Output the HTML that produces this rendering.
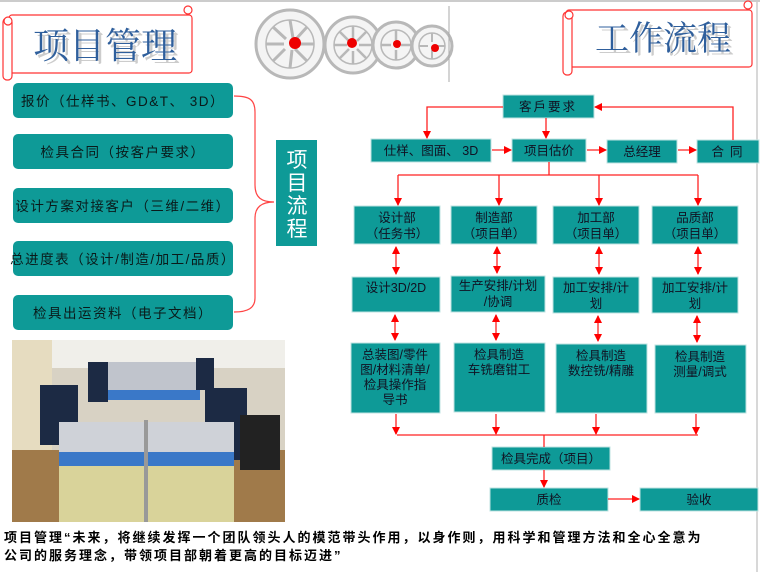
<!DOCTYPE html>
<html><head><meta charset="utf-8">
<style>
html,body{margin:0;padding:0;background:#fff;}
body{width:760px;height:572px;overflow:hidden;position:relative;font-family:"Liberation Sans","Noto Sans CJK SC",sans-serif;}
svg{position:absolute;left:0;top:0;}
.t{font-family:"Liberation Sans","Noto Sans CJK SC",sans-serif;}
.s{font-family:"Liberation Serif","Noto Serif CJK SC",serif;}
</style></head>
<body>
<svg width="760" height="572" viewBox="0 0 760 572" xmlns="http://www.w3.org/2000/svg">
<defs>
<marker id="a" markerWidth="8" markerHeight="8" refX="7" refY="4" orient="auto" markerUnits="userSpaceOnUse"><path d="M0,0 L8,4 L0,8 z" fill="#f00"/></marker>
<marker id="b" markerWidth="8" markerHeight="8" refX="1" refY="4" orient="auto" markerUnits="userSpaceOnUse"><path d="M8,0 L0,4 L8,8 z" fill="#f00"/></marker>
</defs>
<line x1="0" y1="1" x2="760" y2="1" stroke="#ccc" stroke-width="2"/>
<line x1="757" y1="0" x2="757" y2="572" stroke="#ccc" stroke-width="1.5"/>

<!-- left scroll title -->
<g fill="#fff" stroke="#f33" stroke-width="1.2">
<rect x="9" y="15" width="183" height="58" rx="3"/>
<rect x="3" y="18" width="9" height="62" rx="4"/>
<circle cx="8" cy="21" r="4"/>
<circle cx="188" cy="10" r="4"/>
</g>
<text x="36" y="61" class="s" font-size="36" fill="#ccc">项目管理</text>
<text x="33" y="58" class="s" font-size="36" fill="#2f5f9c">项目管理</text>

<!-- wheels -->
<g fill="#f4f4f4" stroke="#b8b8b8">
<circle cx="290" cy="44" r="34" stroke-width="3"/>
<circle cx="290" cy="44" r="24" stroke-width="1.5" fill="none"/>
<path d="M290,20 L293,38 M266,44 L284,44 M314,44 L297,44 M290,68 L292,50 M273,27 L286,39 M307,61 L295,49 M307,27 L296,39 M273,61 L285,49" stroke-width="3"/>
<circle cx="295" cy="43" r="6" fill="#e00" stroke="none"/>
<circle cx="353" cy="45" r="28" stroke-width="3"/>
<circle cx="353" cy="45" r="19" stroke-width="1.5" fill="none"/>
<path d="M353,26 L353,39 M334,45 L347,45 M372,45 L359,45 M353,64 L353,51 M340,32 L349,41 M366,58 L357,49 M366,32 L357,41 M340,58 L349,49" stroke-width="2.5"/>
<circle cx="352" cy="43" r="5" fill="#e00" stroke="none"/>
<circle cx="396" cy="45" r="23" stroke-width="3"/>
<circle cx="396" cy="45" r="15" stroke-width="1.5" fill="none"/>
<path d="M396,30 L396,40 M381,45 L391,45 M411,45 L401,45 M396,60 L396,50" stroke-width="2.5"/>
<circle cx="397" cy="44" r="4" fill="#e00" stroke="none"/>
<circle cx="432" cy="46" r="20" stroke-width="3"/>
<circle cx="432" cy="46" r="13" stroke-width="1.5" fill="none"/>
<path d="M432,33 L432,42 M419,46 L428,46 M445,46 L436,46 M432,59 L432,50" stroke-width="2"/>
<circle cx="435" cy="48" r="4" fill="#e00" stroke="none"/>
</g>
<line x1="449" y1="6" x2="449" y2="82" stroke="#aaa" stroke-width="1"/>

<!-- right scroll -->
<g fill="#fff" stroke="#f33" stroke-width="1.2">
<rect x="566" y="10" width="186" height="57" rx="3"/>
<rect x="563" y="12" width="9" height="63" rx="4"/>
<circle cx="569" cy="15" r="4"/>
<circle cx="748" cy="5" r="4"/>
</g>
<text x="598" y="53" class="s" font-size="34" fill="#ccc">工作流程</text>
<text x="595" y="50" class="s" font-size="34" fill="#2f5f9c">工作流程</text>

<!-- left list -->
<g fill="#0e9a97">
<rect x="13" y="83" width="220" height="35" rx="5"/>
<rect x="13" y="134" width="220" height="35" rx="5"/>
<rect x="13" y="188" width="220" height="35" rx="5"/>
<rect x="13" y="241" width="220" height="35" rx="5"/>
<rect x="13" y="295" width="220" height="35" rx="5"/>
<rect x="276" y="140" width="41" height="106"/>
</g>
<g class="t" font-size="13.5" fill="#0a1a1a" text-anchor="middle" letter-spacing="1.5">
<text x="123" y="106">报价（仕样书、GD&amp;T、 3D）</text>
<text x="123" y="157">检具合同（按客户要求）</text>
<text x="123" y="211">设计方案对接客户（三维/二维）</text>
<text x="123" y="264">总进度表（设计/制造/加工/品质）</text>
<text x="123" y="318">检具出运资料（电子文档）</text>
</g>
<g class="t" font-size="21" fill="#fff" text-anchor="middle">
<text x="297" y="167">项</text><text x="297" y="190">目</text><text x="297" y="213">流</text><text x="297" y="236">程</text>
</g>
<path d="M234,96 C250,96 255,100 255,112 L255,185 C255,198 262,202 274,202 C262,202 255,207 255,218 L255,298 C255,308 248,312 234,312" fill="none" stroke="#f44" stroke-width="1.2"/>

<!-- photo -->
<g>
<rect x="12" y="340" width="273" height="182" fill="#d8d2c4"/>
<rect x="12" y="340" width="273" height="28" fill="#f0efea"/>
<rect x="12" y="340" width="40" height="120" fill="#e6dcc0"/>
<rect x="12" y="450" width="273" height="72" fill="#a07a4a"/>
<rect x="100" y="362" width="100" height="32" fill="#c0c4cc"/>
<rect x="100" y="390" width="100" height="10" fill="#3a78c8"/>
<rect x="40" y="385" width="38" height="60" fill="#1c2a44"/>
<rect x="205" y="388" width="42" height="72" fill="#1c2a44"/>
<rect x="88" y="362" width="20" height="40" fill="#1c2a44"/>
<rect x="196" y="358" width="18" height="32" fill="#1c2a44"/>
<rect x="59" y="422" width="175" height="30" fill="#cfd2d8"/>
<rect x="59" y="452" width="175" height="14" fill="#3a78c8"/>
<rect x="59" y="466" width="175" height="56" fill="#d9d39a"/>
<rect x="144" y="420" width="4" height="102" fill="#999"/>
<rect x="240" y="415" width="40" height="55" fill="#222"/>
</g>

<!-- bottom text -->
<g class="t" font-size="13" font-weight="bold" fill="#000" letter-spacing="2">
<text x="4" y="542">项目管理“未来，将继续发挥一个团队领头人的模范带头作用，以身作则，用科学和管理方法和全心全意为</text>
<text x="4" y="560">公司的服务理念，带领项目部朝着更高的目标迈进”</text>
</g>

<!-- flow boxes -->
<g fill="#0e9a97" stroke="#bfe3e2" stroke-width="1">
<rect x="503" y="95" width="91" height="23"/>
<rect x="371" y="139" width="120" height="23"/>
<rect x="512" y="139" width="74" height="23"/>
<rect x="607" y="140" width="70" height="23"/>
<rect x="697" y="140" width="62" height="23"/>
<rect x="354" y="206" width="86" height="38"/>
<rect x="451" y="206" width="86" height="38"/>
<rect x="553" y="206" width="86" height="38"/>
<rect x="652" y="206" width="86" height="38"/>
<rect x="352" y="277" width="88" height="35"/>
<rect x="451" y="276" width="94" height="36"/>
<rect x="553" y="277" width="86" height="36"/>
<rect x="652" y="277" width="86" height="36"/>
<rect x="351" y="343" width="89" height="70"/>
<rect x="454" y="343" width="91" height="69"/>
<rect x="556" y="344" width="91" height="69"/>
<rect x="655" y="345" width="91" height="68"/>
<rect x="492" y="447" width="118" height="23"/>
<rect x="490" y="488" width="118" height="23"/>
<rect x="640" y="488" width="118" height="23"/>
</g>
<g class="t" font-size="12.5" fill="#112" text-anchor="middle">
<text x="548" y="111" letter-spacing="2">客戶要求</text>
<text x="431" y="155">仕样、图面、 3D</text>
<text x="549" y="155">项目估价</text>
<text x="642" y="156">总经理</text>
<text x="730" y="156" letter-spacing="6">合同</text>
<text x="397" y="222">设计部</text><text x="397" y="238">（任务书）</text>
<text x="494" y="222">制造部</text><text x="494" y="238">（项目单）</text>
<text x="596" y="222">加工部</text><text x="596" y="238">（项目单）</text>
<text x="695" y="222">品质部</text><text x="695" y="238">（项目单）</text>
<text x="396" y="292">设计3D/2D</text>
<text x="498" y="290">生产安排/计划</text><text x="498" y="306">/协调</text>
<text x="596" y="292">加工安排/计</text><text x="596" y="308">划</text>
<text x="695" y="292">加工安排/计</text><text x="695" y="308">划</text>
<text x="395" y="359">总装图/零件</text><text x="395" y="374">图/材料清单/</text><text x="395" y="389">检具操作指</text><text x="395" y="404">导书</text>
<text x="499" y="359">检具制造</text><text x="499" y="374">车铣磨钳工</text>
<text x="601" y="360">检具制造</text><text x="601" y="375">数控铣/精雕</text>
<text x="700" y="361">检具制造</text><text x="700" y="376">测量/调式</text>
<text x="551" y="463">检具完成（项目）</text>
<text x="549" y="504">质检</text>
<text x="699" y="504">验收</text>
</g>

<!-- connectors -->
<g stroke="#f22" stroke-width="1.3" fill="none">
<path d="M503,107 L427,107 L427,138" marker-end="url(#a)"/>
<path d="M546,118 L546,138" marker-end="url(#a)"/>
<path d="M492,150 L511,150" marker-end="url(#a)"/>
<path d="M587,150 L606,150" marker-end="url(#a)"/>
<path d="M678,150 L696,150" marker-end="url(#a)"/>
<path d="M733,140 L733,107 L595,107" marker-end="url(#a)"/>
<path d="M549,162 L549,175"/>
<path d="M398,175 L698,175"/>
<path d="M398,175 L398,205" marker-end="url(#a)"/>
<path d="M499,175 L499,205" marker-end="url(#a)"/>
<path d="M599,175 L599,205" marker-end="url(#a)"/>
<path d="M698,175 L698,205" marker-end="url(#a)"/>
<path d="M396,247 L396,274" marker-start="url(#b)" marker-end="url(#a)"/>
<path d="M497,247 L497,273" marker-start="url(#b)" marker-end="url(#a)"/>
<path d="M599,247 L599,274" marker-start="url(#b)" marker-end="url(#a)"/>
<path d="M698,247 L698,274" marker-start="url(#b)" marker-end="url(#a)"/>
<path d="M395,315 L395,340" marker-start="url(#b)" marker-end="url(#a)"/>
<path d="M496,315 L496,340" marker-start="url(#b)" marker-end="url(#a)"/>
<path d="M598,316 L598,341" marker-start="url(#b)" marker-end="url(#a)"/>
<path d="M697,316 L697,342" marker-start="url(#b)" marker-end="url(#a)"/>
<path d="M396,414 L396,434" marker-end="url(#a)"/>
<path d="M496,414 L496,434" marker-end="url(#a)"/>
<path d="M596,414 L596,434" marker-end="url(#a)"/>
<path d="M696,414 L696,434" marker-end="url(#a)"/>
<path d="M397,435 L698,435"/>
<path d="M544,435 L544,447"/>
<path d="M544,470 L544,487" marker-end="url(#a)"/>
<path d="M608,499 L639,499" marker-end="url(#a)"/>
</g>
</svg>
</body></html>
